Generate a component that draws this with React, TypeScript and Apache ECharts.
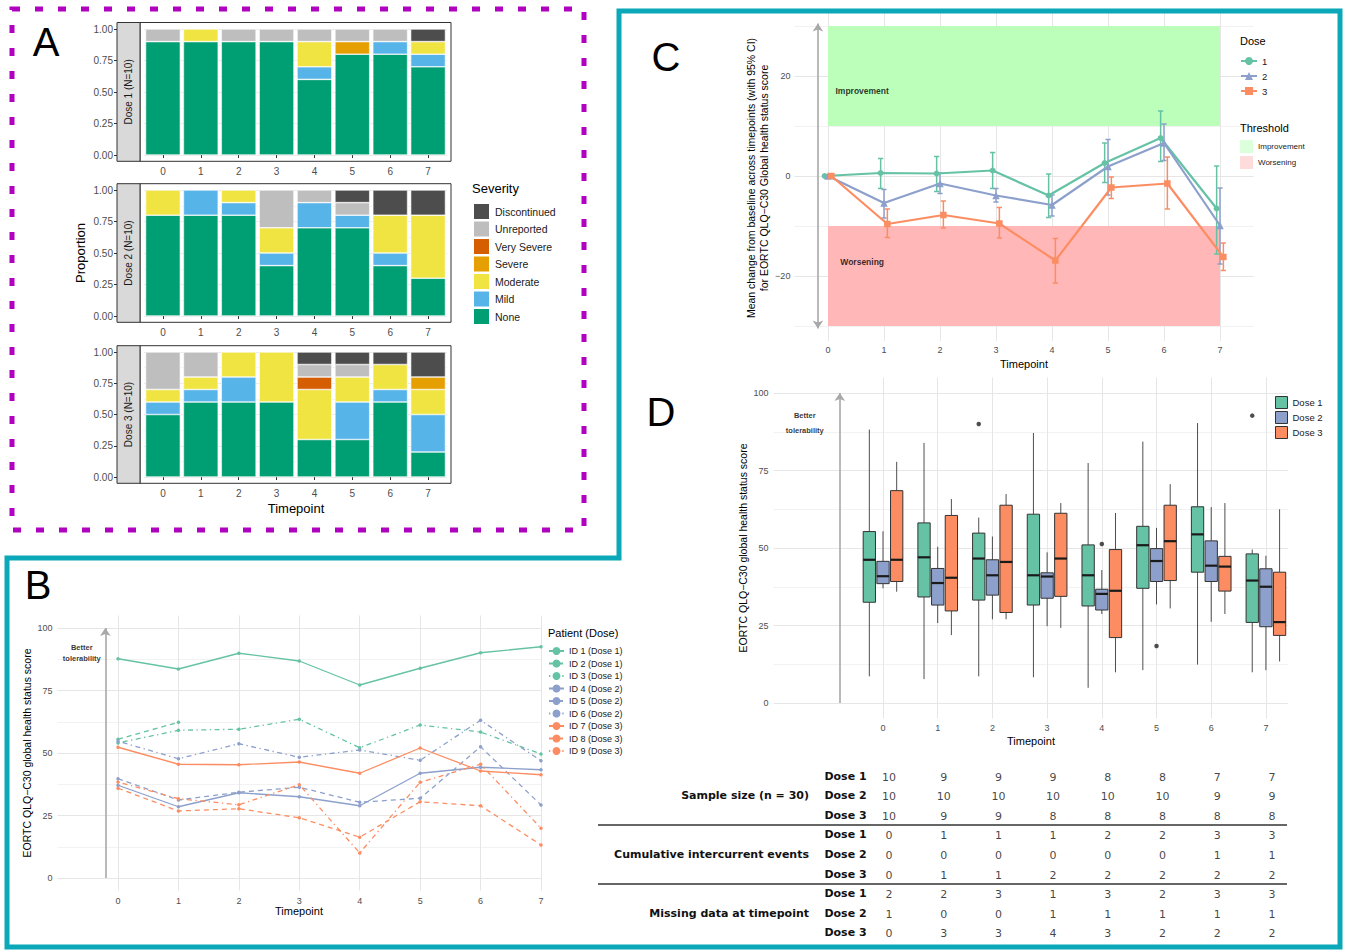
import React, { useEffect, useRef } from "react";
import * as echarts from "echarts";

const FONT = '"Liberation Sans", Arial, Helvetica, sans-serif';
const TABLE_FONT = '"DejaVu Sans", Verdana, sans-serif';

// ---------- shared ----------
const timepoints = [0, 1, 2, 3, 4, 5, 6, 7];
const timepointLabels = ["0", "1", "2", "3", "4", "5", "6", "7"];
const doseColors = ["#66c2a5", "#8da0cb", "#fc8d62"];

// ---------- Panel A: severity proportions (rows: None, Mild, Moderate, Severe, Very Severe, Unreported, Discontinued) ----------
const severityLevels = ["None", "Mild", "Moderate", "Severe", "Very Severe", "Unreported", "Discontinued"];
const severityColors = ["#009e73", "#56b4e9", "#f0e442", "#e69f00", "#d55e00", "#bebebe", "#4d4d4d"];
const facetLabels = ["Dose 1 (N=10)", "Dose 2 (N=10)", "Dose 3 (N=10)"];
const dose1Severity = [
  [0.9, 0.9, 0.9, 0.9, 0.6, 0.8, 0.8, 0.7],
  [0, 0, 0, 0, 0.1, 0, 0.1, 0.1],
  [0, 0.1, 0, 0, 0.2, 0, 0, 0.1],
  [0, 0, 0, 0, 0, 0.1, 0, 0],
  [0, 0, 0, 0, 0, 0, 0, 0],
  [0.1, 0, 0.1, 0.1, 0.1, 0.1, 0.1, 0],
  [0, 0, 0, 0, 0, 0, 0, 0.1],
];
const dose2Severity = [
  [0.8, 0.8, 0.8, 0.4, 0.7, 0.7, 0.4, 0.3],
  [0, 0.2, 0.1, 0.1, 0.2, 0.1, 0.1, 0],
  [0.2, 0, 0.1, 0.2, 0, 0, 0.3, 0.5],
  [0, 0, 0, 0, 0, 0, 0, 0],
  [0, 0, 0, 0, 0, 0, 0, 0],
  [0, 0, 0, 0.3, 0.1, 0.1, 0, 0],
  [0, 0, 0, 0, 0, 0.1, 0.2, 0.2],
];
const dose3Severity = [
  [0.5, 0.6, 0.6, 0.6, 0.3, 0.3, 0.6, 0.2],
  [0.1, 0.1, 0.2, 0, 0, 0.3, 0.1, 0.3],
  [0.1, 0.1, 0.2, 0.4, 0.4, 0.2, 0.2, 0.2],
  [0, 0, 0, 0, 0, 0, 0, 0.1],
  [0, 0, 0, 0, 0.1, 0, 0, 0],
  [0.3, 0.2, 0, 0, 0.1, 0.1, 0, 0],
  [0, 0, 0, 0, 0.1, 0.1, 0.1, 0.2],
];

// ---------- Panel B: individual patient profiles ----------
const patientNames = [
  "ID 1 (Dose 1)", "ID 2 (Dose 1)", "ID 3 (Dose 1)",
  "ID 4 (Dose 2)", "ID 5 (Dose 2)", "ID 6 (Dose 2)",
  "ID 7 (Dose 3)", "ID 8 (Dose 3)", "ID 9 (Dose 3)",
];
const patient1 = [87.7, 83.6, 89.9, 86.8, 77.2, 83.9, 90.1, 92.5];
const patient2 = [55.5, 62.3, null, null, null, null, null, null];
const patient3 = [54.0, 59.1, 59.5, 63.5, 52.1, 61.2, 58.4, 49.6];
const patient4 = [37.1, 28.5, 34.1, 32.5, 28.9, 41.9, 44.3, 43.3];
const patient5 = [39.7, 31.2, 34.3, 36.3, 30.3, 31.9, 52.5, 29.2];
const patient6 = [54.7, 47.7, 53.7, 48.3, 51.2, 47.1, 63.1, 46.9];
const patient7 = [52.3, 45.5, 45.3, 46.4, 41.9, 52.0, 42.8, 41.3];
const patient8 = [35.9, 26.8, 27.7, 24.1, 16.3, 30.5, 28.9, 13.2];
const patient9 = [38.4, 31.7, 29.3, 37.3, 10.0, 38.3, 45.5, 19.9];
const patientDose = [0, 0, 0, 1, 1, 1, 2, 2, 2];

// ---------- Panel C: mean change from baseline with 95% CI ----------
const cDoseNames = ["1", "2", "3"];
const cMean1 = [0, 0.6, 0.5, 1.1, -3.9, 2.6, 7.6, -6.5];
const cLow1 = [0, -2.5, -3.1, -2.5, -8.3, -1.3, 2.9, -15.6];
const cHigh1 = [0, 3.5, 3.9, 4.7, 0.4, 6.6, 13.0, 2.0];
const cMean2 = [0, -5.4, -1.5, -3.9, -5.8, 1.9, 6.6, -9.9];
const cLow2 = [0, -8.4, -3.5, -5.2, -8.0, -3.8, 3.1, -17.6];
const cHigh2 = [0, -2.7, 0.6, -2.5, -3.8, 7.3, 10.4, -2.4];
const cMean3 = [0, -9.6, -7.8, -9.5, -16.9, -2.3, -1.5, -16.2];
const cLow3 = [0, -12.3, -10.4, -12.4, -21.4, -4.5, -6.6, -18.9];
const cHigh3 = [0, -6.6, -5.0, -6.3, -12.5, -0.2, 3.8, -13.4];
const improvementBand = [0, 10, 7, 30];
const worseningBand = [0, -30, 7, -10];

// ---------- Panel D: boxplots [min, q1, median, q3, max] ----------
const dDoseNames = ["Dose 1", "Dose 2", "Dose 3"];
const boxDose1 = [
  [8.6, 32.5, 46.2, 55.3, 88.2],
  [7.7, 34.2, 47.0, 58.1, 83.9],
  [8.6, 33.2, 46.6, 54.8, 59.8],
  [8.3, 31.6, 41.2, 60.9, 87.1],
  [4.9, 31.3, 41.2, 51.0, 77.4],
  [10.6, 37.0, 50.9, 57.0, 84.3],
  [12.4, 42.2, 54.4, 63.3, 90.3],
  [9.9, 26.0, 39.5, 48.1, 49.5],
];
const boxDose2 = [
  [37.0, 38.5, 40.9, 45.7, 55.4],
  [25.8, 31.6, 38.7, 43.4, 50.4],
  [27.0, 34.8, 41.2, 46.2, 53.7],
  [24.8, 33.8, 40.8, 42.0, 48.6],
  [28.7, 30.0, 35.2, 36.7, 42.9],
  [31.8, 39.2, 45.8, 49.8, 56.5],
  [26.2, 39.2, 44.3, 52.3, 63.2],
  [10.6, 24.6, 37.5, 43.3, 47.5],
];
const boxDose3 = [
  [35.9, 39.2, 46.2, 68.5, 77.8],
  [21.9, 29.7, 40.4, 60.5, 65.8],
  [27.0, 29.2, 45.5, 63.8, 67.4],
  [24.2, 34.4, 46.6, 61.2, 64.5],
  [9.9, 21.1, 36.2, 49.5, 61.3],
  [30.5, 39.5, 52.2, 63.8, 70.6],
  [28.7, 36.1, 44.0, 47.3, 64.5],
  [13.4, 21.8, 26.1, 42.2, 62.5],
];
const outlierTimepoints = [2, 4, 5, 7];
const outlierDose = [0, 1, 1, 0];
const outlierValues = [90.0, 51.3, 18.4, 92.7];

// ---------- Table under D ----------
const tableRowLabels = ["Dose 1", "Dose 2", "Dose 3", "Dose 1", "Dose 2", "Dose 3", "Dose 1", "Dose 2", "Dose 3"];
const tableGroups = ["Sample size (n = 30)", "Cumulative intercurrent events", "Missing data at timepoint"];
const sampleSize1 = [10, 9, 9, 9, 8, 8, 7, 7];
const sampleSize2 = [10, 10, 10, 10, 10, 10, 9, 9];
const sampleSize3 = [10, 9, 9, 8, 8, 8, 8, 8];
const intercurrent1 = [0, 1, 1, 1, 2, 2, 3, 3];
const intercurrent2 = [0, 0, 0, 0, 0, 0, 1, 1];
const intercurrent3 = [0, 1, 1, 2, 2, 2, 2, 2];
const missing1 = [2, 2, 3, 1, 3, 2, 3, 3];
const missing2 = [1, 0, 0, 1, 1, 1, 1, 1];
const missing3 = [0, 3, 3, 4, 3, 2, 2, 2];

// ---------- style helpers ----------
const TR = "rgba(0,0,0,0)";
const MAJ = "#e6e6e6";
const MIN = "#f2f2f2";
const AX = "#4d4d4d";
function cycle(len: number, marks: Record<number, string>) {
  return Array.from({ length: len }, (_, i) => marks[i] ?? TR);
}
function intLabel(lo: number, hi: number, step: number, minus = false) {
  return (v: number) => {
    const r = Math.round(v);
    if (Math.abs(v - r) > 1e-6 || r < lo || r > hi || r % step !== 0) return "";
    return r < 0 && minus ? "\u2212" + Math.abs(r) : String(r);
  };
}
function txt(x: number, y: number, text: string, o: any = {}) {
  return {
    type: "text",
    x,
    y,
    rotation: o.rotation || 0,
    silent: true,
    z: 50,
    style: {
      text,
      fill: o.color || "#000",
      fontSize: o.size || 11,
      fontFamily: o.family || FONT,
      fontWeight: o.weight || "normal",
      align: o.align || "center",
      textAlign: o.align || "center",
      verticalAlign: "middle",
      textVerticalAlign: "middle",
      lineHeight: o.lineHeight,
    },
  };
}

function buildOption() {
  const grid = [
    { left: 144, top: 29, width: 303, height: 126 },
    { left: 144, top: 190, width: 303, height: 126 },
    { left: 144, top: 352, width: 303, height: 125 },
    { left: 57.6, top: 615.5, width: 483.4, height: 275 },
    { left: 794.4, top: 11, width: 459.2, height: 330 },
    { left: 773.6, top: 377.5, width: 514.2, height: 341 },
    { left: 773.6, top: 766.2, width: 514.2, height: 176.4 },
  ].map((g) => ({ ...g, containLabel: false, outerBoundsMode: "none" }));

  const xAxis: any[] = [];
  const yAxis: any[] = [];
  for (let i = 0; i < 3; i++) {
    xAxis.push({
      type: "category", gridIndex: i, data: timepointLabels, offset: 6,
      axisLine: { show: false },
      axisTick: { show: true, alignWithLabel: true, length: 3, lineStyle: { color: "#333" } },
      axisLabel: { color: AX, fontSize: 10, margin: 5, fontFamily: FONT },
      splitLine: { show: false },
    });
    yAxis.push({
      type: "value", gridIndex: i, min: 0, max: 1, interval: 0.25, offset: 27,
      axisLine: { show: false },
      axisTick: { show: true, length: 3, lineStyle: { color: "#333" } },
      axisLabel: { color: AX, fontSize: 10, margin: 4, fontFamily: FONT, formatter: (v: number) => v.toFixed(2) },
      splitLine: { show: true, lineStyle: { color: "#ebebeb", width: 1 } },
      minorTick: { show: false, splitNumber: 2 },
      minorSplitLine: { show: true, lineStyle: { color: "#f4f4f4", width: 1 } },
    });
  }
  // B
  xAxis.push({
    type: "value", gridIndex: 3, min: -1, max: 7, interval: 1,
    axisLine: { show: false }, axisTick: { show: false },
    axisLabel: { color: AX, fontSize: 9, margin: 6, fontFamily: FONT, formatter: intLabel(0, 7, 1) },
    splitLine: { show: true, lineStyle: { color: cycle(9, { 1: MAJ, 2: MAJ, 3: MAJ, 4: MAJ, 5: MAJ, 6: MAJ, 7: MAJ, 8: MAJ }), width: 1 } },
  });
  yAxis.push({
    type: "value", gridIndex: 3, min: -5, max: 105, interval: 2.5,
    axisLine: { show: false }, axisTick: { show: false },
    axisLabel: { color: AX, fontSize: 9, margin: 5, fontFamily: FONT, formatter: intLabel(0, 100, 25) },
    splitLine: { show: true, lineStyle: { color: cycle(10, { 2: MAJ, 7: MIN }), width: 1 } },
  });
  // C
  xAxis.push({
    type: "value", gridIndex: 4, min: -0.6, max: 7.6, interval: 0.2,
    axisLine: { show: false }, axisTick: { show: false },
    axisLabel: { color: AX, fontSize: 9, margin: 4, fontFamily: FONT, formatter: intLabel(0, 7, 1) },
    splitLine: { show: true, lineStyle: { color: cycle(5, { 3: MAJ }), width: 1 } },
  });
  yAxis.push({
    type: "value", gridIndex: 4, min: -33, max: 33, interval: 1,
    axisLine: { show: false }, axisTick: { show: false },
    axisLabel: { color: AX, fontSize: 9, margin: 4, fontFamily: FONT, formatter: intLabel(-20, 20, 20, true) },
    splitLine: { show: true, lineStyle: { color: cycle(20, { 13: MAJ, 3: MIN }), width: 1 } },
  });
  // D
  xAxis.push({
    type: "value", gridIndex: 5, min: -2, max: 7.4, interval: 1,
    axisLine: { show: false }, axisTick: { show: false },
    axisLabel: { color: AX, fontSize: 9, margin: 5, fontFamily: FONT, formatter: intLabel(0, 7, 1) },
    splitLine: { show: true, lineStyle: { color: cycle(11, { 2: MAJ, 3: MAJ, 4: MAJ, 5: MAJ, 6: MAJ, 7: MAJ, 8: MAJ, 9: MAJ }), width: 1 } },
  });
  yAxis.push({
    type: "value", gridIndex: 5, min: -5, max: 105, interval: 2.5,
    axisLine: { show: false }, axisTick: { show: false },
    axisLabel: { color: AX, fontSize: 9, margin: 5, fontFamily: FONT, formatter: intLabel(0, 100, 25) },
    splitLine: { show: true, lineStyle: { color: cycle(10, { 2: MAJ, 7: MIN }), width: 1 } },
  });
  // Table
  xAxis.push({ type: "value", gridIndex: 6, min: -2, max: 7.4, show: false });
  yAxis.push({
    type: "value", gridIndex: 6, min: -0.5, max: 8.5, interval: 0.5, inverse: true,
    axisLine: { show: false }, axisTick: { show: false }, splitLine: { show: false },
    axisLabel: {
      color: "#111", fontSize: 11, fontWeight: "bold", fontFamily: TABLE_FONT, margin: -93,
      formatter: (v: number) => {
        const r = Math.round(v);
        return Math.abs(v - r) < 1e-6 && r >= 0 && r < tableRowLabels.length ? tableRowLabels[r] : "";
      },
    },
  });

  const series: any[] = [];

  // ---- A: stacked bars
  [dose1Severity, dose2Severity, dose3Severity].forEach((mat, f) => {
    mat.forEach((vals, s) => {
      series.push({
        type: "bar", name: severityLevels[s], xAxisIndex: f, yAxisIndex: f, stack: "facet" + f,
        data: vals.map((v) => (v > 0 ? v : "-")),
        barCategoryGap: "8%",
        itemStyle: { color: severityColors[s], borderColor: "#ffffff", borderWidth: 0.6 },
        silent: true, emphasis: { disabled: true },
      });
    });
  });

  // ---- B: patient lines
  const patients = [patient1, patient2, patient3, patient4, patient5, patient6, patient7, patient8, patient9];
  const lineTypes: any[] = ["solid", [5, 4], [1.3, 3.5, 5, 3.5]];
  patients.forEach((vals, i) => {
    const col = doseColors[patientDose[i]];
    series.push({
      type: "line", name: patientNames[i], xAxisIndex: 3, yAxisIndex: 3,
      data: timepoints.map((t, j) => [t, vals[j]]).filter((p) => p[1] != null),
      symbol: "circle", symbolSize: 3.5, showSymbol: true,
      lineStyle: { color: col, width: 1.3, type: lineTypes[i % 3] },
      itemStyle: { color: col },
      silent: true, emphasis: { disabled: true },
    });
  });
  series.push({
    type: "scatter", name: "annotB", xAxisIndex: 3, yAxisIndex: 3,
    data: [[-0.6, 90]], symbolSize: 1, itemStyle: { color: TR }, silent: true,
    label: { show: true, position: "inside", formatter: "Better\ntolerability", fontSize: 7.5, fontWeight: "bold", color: "#000", lineHeight: 11, fontFamily: FONT },
    markLine: {
      silent: true, symbol: ["none", "arrow"], symbolSize: 8, label: { show: false },
      lineStyle: { color: "#a8a8a8", width: 1.6, type: "solid" },
      data: [[{ coord: [-0.21, 0] }, { coord: [-0.21, 100] }]],
    },
  });

  // ---- C: threshold bands
  const bandRender = (params: any, api: any) => {
    const p1 = api.coord([api.value(0), api.value(3)]);
    const p2 = api.coord([api.value(2), api.value(1)]);
    return {
      type: "rect",
      shape: { x: p1[0], y: p1[1], width: p2[0] - p1[0], height: p2[1] - p1[1] },
      style: { fill: api.visual("color") },
    };
  };
  series.push({
    type: "custom", name: "Improvement", xAxisIndex: 4, yAxisIndex: 4, z: 1,
    data: [improvementBand], encode: { x: [0, 2], y: [1, 3] },
    itemStyle: { color: "#bbffbb" }, renderItem: bandRender, silent: true,
  });
  series.push({
    type: "custom", name: "Worsening", xAxisIndex: 4, yAxisIndex: 4, z: 1,
    data: [worseningBand], encode: { x: [0, 2], y: [1, 3] },
    itemStyle: { color: "#ffb7b7" }, renderItem: bandRender, silent: true,
  });
  const cMeans = [cMean1, cMean2, cMean3];
  const cLows = [cLow1, cLow2, cLow3];
  const cHighs = [cHigh1, cHigh2, cHigh3];
  const cDodge = [-0.06, 0, 0.06];
  const cSymbols = ["circle", "triangle", "rect"];
  const cSymbolSizes = [6, 7.5, 6.5];
  for (let d = 0; d < 3; d++) {
    const col = doseColors[d];
    series.push({
      type: "custom", name: "ci" + (d + 1), xAxisIndex: 4, yAxisIndex: 4, z: 3,
      data: timepoints.map((t, i) => [t + cDodge[d], cLows[d][i], cHighs[d][i]]).filter((r) => r[1] !== r[2]),
      encode: { x: 0, y: [1, 2] },
      silent: true,
      renderItem: (params: any, api: any) => {
        const x = api.value(0);
        const lo = api.coord([x, api.value(1)]);
        const hi = api.coord([x, api.value(2)]);
        const cap = 2.6;
        const st = { stroke: col, lineWidth: 1.5 };
        return {
          type: "group",
          children: [
            { type: "line", shape: { x1: lo[0], y1: lo[1], x2: hi[0], y2: hi[1] }, style: st },
            { type: "line", shape: { x1: lo[0] - cap, y1: lo[1], x2: lo[0] + cap, y2: lo[1] }, style: st },
            { type: "line", shape: { x1: hi[0] - cap, y1: hi[1], x2: hi[0] + cap, y2: hi[1] }, style: st },
          ],
        };
      },
    });
    series.push({
      type: "line", name: cDoseNames[d], xAxisIndex: 4, yAxisIndex: 4, z: 4,
      data: timepoints.map((t, i) => [t + cDodge[d], cMeans[d][i]]),
      symbol: cSymbols[d], symbolSize: cSymbolSizes[d], showSymbol: true,
      lineStyle: { color: col, width: 2.2 }, itemStyle: { color: col },
      silent: true, emphasis: { disabled: true },
    });
  }
  series.push({
    type: "scatter", name: "annotC", xAxisIndex: 4, yAxisIndex: 4, z: 5,
    data: [[0.61, 17, "Improvement"], [0.61, -17.2, "Worsening"]],
    symbolSize: 1, itemStyle: { color: TR }, silent: true,
    label: { show: true, position: "inside", formatter: (p: any) => p.value[2], fontSize: 8.5, fontWeight: "bold", color: "#000", fontFamily: FONT },
    markLine: {
      silent: true, symbol: ["arrow", "arrow"], symbolSize: 8, label: { show: false },
      lineStyle: { color: "#a8a8a8", width: 1.6, type: "solid" },
      data: [[{ coord: [-0.18, -30.5] }, { coord: [-0.18, 30.5] }]],
    },
  });

  // ---- D: boxplots
  const boxes = [boxDose1, boxDose2, boxDose3];
  const dDodge = [-0.25, 0, 0.25];
  const boxWidthUnits = 0.225;
  for (let d = 0; d < 3; d++) {
    const col = doseColors[d];
    series.push({
      type: "custom", name: dDoseNames[d], xAxisIndex: 5, yAxisIndex: 5, z: 3,
      data: timepoints.map((t, i) => [t + dDodge[d], ...boxes[d][i]]),
      encode: { x: 0, y: [1, 2, 3, 4, 5] },
      itemStyle: { color: col, borderColor: "#333", borderWidth: 1 },
      silent: true,
      renderItem: (params: any, api: any) => {
        const x = api.value(0);
        const pMin = api.coord([x, api.value(1)]);
        const pQ1 = api.coord([x, api.value(2)]);
        const pMed = api.coord([x, api.value(3)]);
        const pQ3 = api.coord([x, api.value(4)]);
        const pMax = api.coord([x, api.value(5)]);
        const half = api.size([boxWidthUnits, 0])[0] / 2;
        const wst = { stroke: "#3a3a3a", lineWidth: 0.9 };
        return {
          type: "group",
          children: [
            { type: "line", shape: { x1: pMax[0], y1: pMax[1], x2: pQ3[0], y2: pQ3[1] }, style: wst },
            { type: "line", shape: { x1: pQ1[0], y1: pQ1[1], x2: pMin[0], y2: pMin[1] }, style: wst },
            { type: "rect", shape: { x: pQ3[0] - half, y: pQ3[1], width: half * 2, height: pQ1[1] - pQ3[1] }, style: { fill: col, stroke: "#333", lineWidth: 1 } },
            { type: "line", shape: { x1: pMed[0] - half, y1: pMed[1], x2: pMed[0] + half, y2: pMed[1] }, style: { stroke: "#1a1a1a", lineWidth: 2.2 } },
          ],
        };
      },
    });
  }
  series.push({
    type: "scatter", name: "outliers", xAxisIndex: 5, yAxisIndex: 5, z: 4,
    data: outlierValues.map((v, i) => [outlierTimepoints[i] + dDodge[outlierDose[i]], v]),
    symbol: "circle", symbolSize: 4.5, itemStyle: { color: "#222" }, silent: true,
  });
  series.push({
    type: "scatter", name: "annotD", xAxisIndex: 5, yAxisIndex: 5,
    data: [[-1.43, 90.2]], symbolSize: 1, itemStyle: { color: TR }, silent: true,
    label: { show: true, position: "inside", formatter: "Better\ntolerability", fontSize: 7.5, fontWeight: "bold", color: "#000", lineHeight: 15, fontFamily: FONT },
    markLine: {
      silent: true, symbol: ["none", "arrow"], symbolSize: 8, label: { show: false },
      lineStyle: { color: "#a8a8a8", width: 1.6, type: "solid" },
      data: [[{ coord: [-0.79, 0] }, { coord: [-0.79, 100] }]],
    },
  });

  // ---- Table
  const tableRows = [sampleSize1, sampleSize2, sampleSize3, intercurrent1, intercurrent2, intercurrent3, missing1, missing2, missing3];
  series.push({
    type: "scatter", name: "table", xAxisIndex: 6, yAxisIndex: 6,
    data: tableRows.flatMap((vals, r) => vals.map((v, i) => [timepoints[i], r, v])),
    symbolSize: 1, itemStyle: { color: TR }, silent: true,
    label: { show: true, position: "inside", offset: [6, 1], formatter: (p: any) => String(p.value[2]), fontSize: 11, color: "#111", fontFamily: TABLE_FONT },
  });

  // ---- legends
  const legend = [
    {
      data: severityLevels.slice().reverse(), orient: "vertical", left: 472, top: 202, icon: "rect",
      itemWidth: 17, itemHeight: 17, itemGap: -1.5, padding: 0, selectedMode: false,
      textStyle: { fontSize: 10.5, color: "#1a1a1a", fontFamily: FONT },
    },
    {
      data: patientNames, orient: "vertical", left: 548, top: 646, itemWidth: 15, itemHeight: 10, itemGap: 2.5,
      padding: 0, selectedMode: false, textStyle: { fontSize: 9, color: "#1a1a1a", fontFamily: FONT, lineHeight: 10 },
    },
    {
      data: cDoseNames, orient: "vertical", left: 1240, top: 56, itemWidth: 16, itemHeight: 10, itemGap: 5,
      padding: 0, selectedMode: false, textStyle: { fontSize: 9.5, color: "#1a1a1a", fontFamily: FONT, lineHeight: 10 },
    },
    {
      data: [
        { name: "Improvement", itemStyle: { color: "#dcffdc" } },
        { name: "Worsening", itemStyle: { color: "#ffdcdc" } },
      ],
      orient: "vertical", left: 1240, top: 140, icon: "rect", itemWidth: 13, itemHeight: 13, itemGap: 3,
      padding: 0, selectedMode: false, textStyle: { fontSize: 8, color: "#1a1a1a", fontFamily: FONT },
    },
    {
      data: dDoseNames, orient: "vertical", left: 1275, top: 396, icon: "rect", itemWidth: 12, itemHeight: 12, itemGap: 2,
      padding: 0, selectedMode: false, itemStyle: { borderColor: "#333", borderWidth: 1 },
      textStyle: { fontSize: 9.5, color: "#1a1a1a", fontFamily: FONT },
    },
  ];

  // ---- graphic (frames, strips, titles)
  const g: any[] = [];
  g.push({
    type: "rect", silent: true, z: 60, shape: { x: 12, y: 9, width: 572, height: 521 },
    style: { fill: "none", stroke: "#b000c0", lineWidth: 5, lineDash: [8, 15] },
  });
  g.push({
    type: "polygon", silent: true, z: 60,
    shape: { points: [[7, 558], [619, 558], [619, 11], [1340, 11], [1340, 947], [7, 947]] },
    style: { fill: "none", stroke: "#0aa8b8", lineWidth: 5 },
  });
  const facetTop = [22.5, 183.7, 345.7];
  const facetBottom = [161.3, 322.3, 483.3];
  for (let i = 0; i < 3; i++) {
    g.push({
      type: "rect", silent: true, z: 40,
      shape: { x: 140, y: facetTop[i], width: 311, height: facetBottom[i] - facetTop[i] },
      style: { fill: "none", stroke: "#333", lineWidth: 1 },
    });
    g.push({
      type: "rect", silent: true, z: 40,
      shape: { x: 117, y: facetTop[i], width: 23, height: facetBottom[i] - facetTop[i] },
      style: { fill: "#d9d9d9", stroke: "#333", lineWidth: 1 },
    });
    g.push(txt(128.5, (facetTop[i] + facetBottom[i]) / 2, facetLabels[i], { rotation: Math.PI / 2, size: 10, color: "#1a1a1a" }));
  }
  g.push(txt(46, 42, "A", { size: 40 }));
  g.push(txt(38, 585, "B", { size: 40 }));
  g.push(txt(666, 57, "C", { size: 40 }));
  g.push(txt(661, 412, "D", { size: 40 }));
  g.push(txt(80, 253, "Proportion", { rotation: Math.PI / 2, size: 13 }));
  g.push(txt(296, 508, "Timepoint", { size: 13 }));
  g.push(txt(472, 188, "Severity", { size: 13, align: "left" }));
  g.push(txt(27, 753, "EORTC QLQ\u2212C30 global health status score", { rotation: Math.PI / 2, size: 10.5 }));
  g.push(txt(299, 911, "Timepoint", { size: 11 }));
  g.push(txt(548, 633, "Patient (Dose)", { size: 11, align: "left" }));
  g.push(txt(751, 178, "Mean change from baseline across timepoints (with 95% CI)", { rotation: Math.PI / 2, size: 10.5 }));
  g.push(txt(764, 178, "for EORTC QLQ\u2212C30 Global health status score", { rotation: Math.PI / 2, size: 10.5 }));
  g.push(txt(1024, 364, "Timepoint", { size: 11 }));
  g.push(txt(1240, 41, "Dose", { size: 11, align: "left" }));
  g.push(txt(1240, 128, "Threshold", { size: 11, align: "left" }));
  g.push(txt(743, 548, "EORTC QLQ\u2212C30 global health status score", { rotation: Math.PI / 2, size: 10.5 }));
  g.push(txt(1031, 741, "Timepoint", { size: 11 }));
  const groupY = [795.6, 854.4, 913.2];
  tableGroups.forEach((name, i) => g.push(txt(809, groupY[i], name, { size: 11, weight: "bold", family: TABLE_FONT, align: "right", color: "#111" })));
  [825, 884].forEach((y) =>
    g.push({ type: "line", silent: true, z: 50, shape: { x1: 598, y1: y, x2: 1287, y2: y }, style: { stroke: "#333", lineWidth: 1.3 } })
  );

  return {
    animation: false,
    backgroundColor: "#ffffff",
    textStyle: { fontFamily: FONT },
    grid,
    xAxis,
    yAxis,
    legend,
    series,
    graphic: { elements: g },
  };
}

export default function App() {
  const ref = useRef<HTMLDivElement>(null);
  useEffect(() => {
    if (!ref.current) return;
    const chart = echarts.init(ref.current, undefined, { renderer: "svg" });
    chart.setOption(buildOption() as any);
    return () => chart.dispose();
  }, []);
  return (
    <div
      ref={ref}
      style={{ position: "fixed", left: 0, top: 0, width: 1347, height: 950, background: "#fff" }}
    />
  );
}
